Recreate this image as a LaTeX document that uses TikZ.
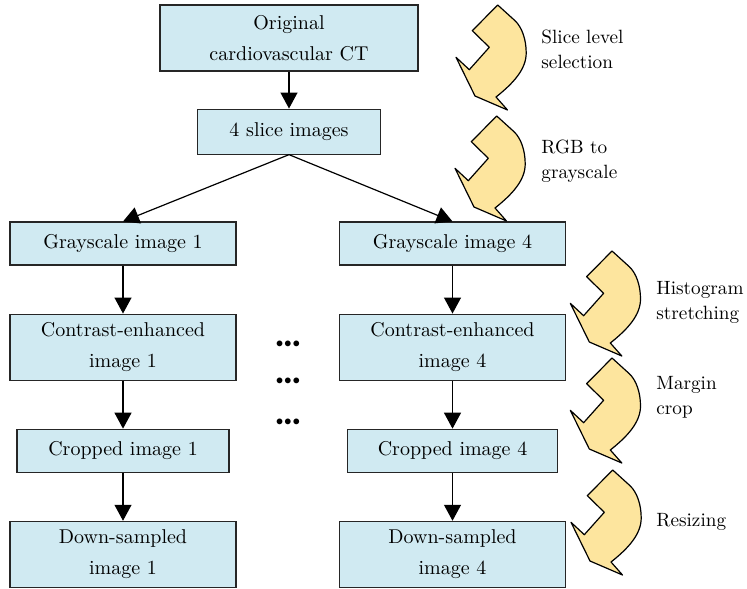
\documentclass[tikz,border=0pt]{standalone}
\usepackage{tikz}
\usetikzlibrary{positioning,arrows.meta}

\definecolor{boxblue}{RGB}{208,234,242}
\definecolor{arrowyellow}{RGB}{253,229,158}

\newcommand{\threedots}{\makebox[4.2pt]{\textbullet}\makebox[4.2pt]{\textbullet}\makebox[4.2pt]{\textbullet}}

\tikzset{
  stage/.style={draw=black!85, fill=boxblue, line width=0.55pt, minimum width=113pt,
    minimum height=21.5pt, align=center, inner sep=1pt,
    font=\fontsize{10}{15.5}\selectfont},
  tall/.style={minimum height=33pt},
  flow/.style={line width=0.6pt, -{Triangle[length=8pt,width=8.5pt]}},
  note/.style={anchor=west, align=left, inner sep=0pt,
    font=\fontsize{9.6}{12.5}\selectfont},
  dotrow/.style={inner sep=0pt, font=\fontsize{10}{10}\selectfont},
  turnarrow/.pic={
    \draw[fill=arrowyellow, line width=0.6pt, line join=round]
      (0,0) -- (-25.4,25.7) -- (-8.4,42.3) -- (-28.4,64.7) -- (-41.7,52.3)
      -- (-22.7,91) -- (9.8,105) -- (-1.7,92)
      .. controls (16,78) and (28.5,64) .. (28.5,48)
      .. controls (28.5,34) and (24,22) .. (17.3,15.7) -- cycle;
  }
}

\begin{document}
\begin{tikzpicture}[x=0.5pt, y=-0.5pt]
  \useasboundingbox (0,0) rectangle (747,588);

  % Nodes
  \node[stage, tall, minimum width=129pt] (orig) at (289,38) {Original\\cardiovascular CT};
  \node[stage, minimum width=91.5pt, minimum height=22.5pt, below=18.5pt of orig] (slices) {4 slice images};

  \node[stage] (gray1) at (123,243.5) {Grayscale image 1};
  \node[stage, tall, below=24pt of gray1] (cont1) {Contrast-enhanced\\image 1};
  \node[stage, minimum width=106pt, below=24pt of cont1] (crop1) {Cropped image 1};
  \node[stage, tall, below=24pt of crop1] (down1) {Down-sampled\\image 1};

  \node[stage] (gray4) at (452.5,243.5) {Grayscale image 4};
  \node[stage, tall, below=24pt of gray4] (cont4) {Contrast-enhanced\\image 4};
  \node[stage, minimum width=105pt, below=24pt of cont4] (crop4) {Cropped image 4};
  \node[stage, tall, below=24pt of crop4] (down4) {Down-sampled\\image 4};

  \node[dotrow] (dotsa) at (288,345) {\threedots};
  \node[dotrow] (dotsb) at (288,382) {\threedots};
  \node[dotrow] (dotsc) at (288,423) {\threedots};

  % Edges
  \draw[flow] (orig) -- (slices);
  \draw[flow] (slices.south) -- (gray1.north);
  \draw[flow] (slices.south) -- (gray4.north);
  \draw[flow] (gray1) -- (cont1);
  \draw[flow] (cont1) -- (crop1);
  \draw[flow] (crop1) -- (down1);
  \draw[flow] (gray4) -- (cont4);
  \draw[flow] (cont4) -- (crop4);
  \draw[flow] (crop4) -- (down4);

  % Processing steps
  \pic at (497.7,5) {turnarrow};
  \pic at (496.7,116) {turnarrow};
  \pic at (612,251) {turnarrow};
  \pic at (612,358) {turnarrow};
  \pic at (612.7,470) {turnarrow};

  \node[note] (slicelevel) at (541,49.5) {Slice level\\selection};
  \node[note] (rgbgray) at (541,161.5) {RGB to\\grayscale};
  \node[note] (histo) at (656,302) {Histogram\\stretching};
  \node[note] (margin) at (656,397) {Margin\\crop};
  \node[note] (resize) at (656,522) {Resizing};
\end{tikzpicture}
\end{document}
